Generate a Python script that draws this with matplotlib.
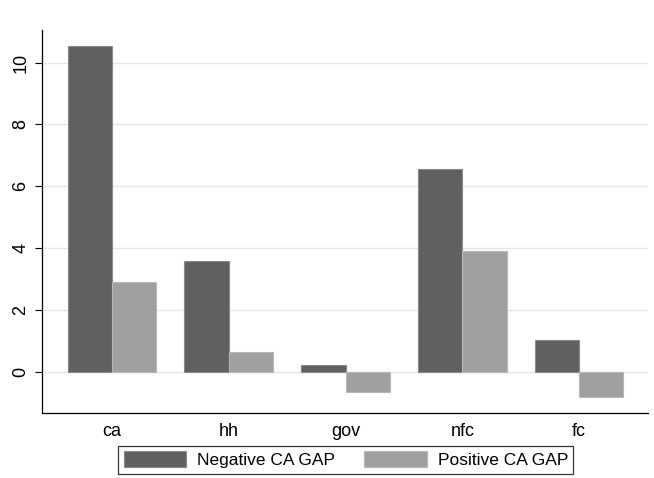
import matplotlib.pyplot as plt
import numpy as np

plt.rcParams['font.family'] = ['Liberation Sans', 'DejaVu Sans']

# Data
categories = ['ca', 'hh', 'gov', 'nfc', 'fc']
negative_gap = [10.52, 3.57, 0.22, 6.55, 1.02]
positive_gap = [2.89, 0.62, -0.65, 3.90, -0.82]
y_ticks = [0, 2, 4, 6, 8, 10]

fig = plt.figure(figsize=(6.54, 4.78), dpi=100)
ax = fig.add_axes([0.0642, 0.136, 0.9266, 0.801])

x = np.arange(len(categories))
w = 0.38
ax.bar(x - w / 2, negative_gap, w, color='#606060', edgecolor='#8a8a8a',
       linewidth=0.8, label='Negative CA GAP', zorder=3)
ax.bar(x + w / 2, positive_gap, w, color='#a0a0a0', edgecolor='#b8b8b8',
       linewidth=0.8, label='Positive CA GAP', zorder=3)

ax.set_xlim(-0.6, 4.59)
ax.set_ylim(-1.34, 11.05)
ax.set_xticks(x)
ax.set_xticklabels(categories, fontsize=13)
ax.tick_params(axis='x', length=0, pad=7)
ax.set_yticks(y_ticks)
ax.set_yticklabels([str(t) for t in y_ticks], rotation=90, va='center', fontsize=13)
ax.tick_params(axis='y', length=5, width=0.8, pad=4)

ax.grid(axis='y', color='#e6e6e6', linewidth=1.0, zorder=0)
ax.set_axisbelow(True)
for side in ['top', 'right']:
    ax.spines[side].set_visible(False)
ax.spines['left'].set_linewidth(0.9)
ax.spines['bottom'].set_linewidth(0.9)

leg = fig.legend(loc='lower center', bbox_to_anchor=(0.529, 0.002), ncol=2,
                 fontsize=12.5, fancybox=False, edgecolor='black',
                 handlelength=3.6, handleheight=1.05, columnspacing=1.65,
                 handletextpad=0.65, borderpad=0.3, borderaxespad=0.2)
leg.get_frame().set_linewidth(0.9)

plt.savefig('out.png', dpi=100)
